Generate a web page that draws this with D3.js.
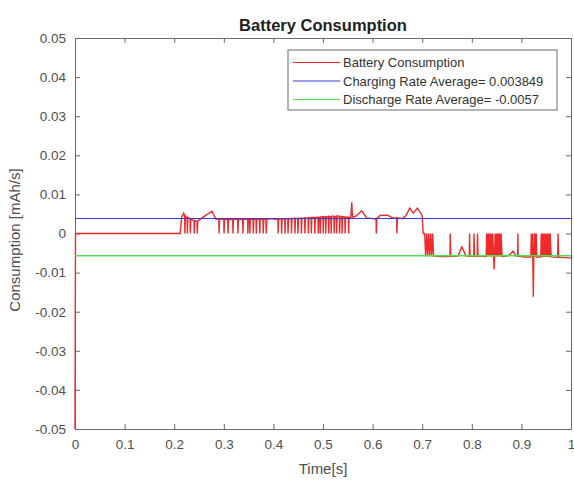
<!DOCTYPE html>
<html>
<head>
<meta charset="utf-8">
<script src="https://cdn.jsdelivr.net/npm/d3@7"></script>
<style>
  html, body { margin: 0; padding: 0; background: #fff; }
  svg { display: block; font-family: "Liberation Sans", Arial, Helvetica, sans-serif; }
</style>
</head>
<body>
<svg id="chart" width="574" height="480"></svg>
<script>
// ---------- data ----------
const titleText = "Battery Consumption";
const xLabelText = "Time[s]";
const yLabelText = "Consumption [mAh/s]";
const xTicks = [0, 0.1, 0.2, 0.3, 0.4, 0.5, 0.6, 0.7, 0.8, 0.9, 1];
const xTickLabels = ["0", "0.1", "0.2", "0.3", "0.4", "0.5", "0.6", "0.7", "0.8", "0.9", "1"];
const yTicks = [-0.05, -0.04, -0.03, -0.02, -0.01, 0, 0.01, 0.02, 0.03, 0.04, 0.05];
const yTickLabels = ["-0.05", "-0.04", "-0.03", "-0.02", "-0.01", "0", "0.01", "0.02", "0.03", "0.04", "0.05"];
const legendLabels = ["Battery Consumption", "Charging Rate Average= 0.003849", "Discharge Rate Average= -0.0057"];
const chargingAverage = 0.003849;
const dischargeAverage = -0.0057;

// battery consumption trace: [time, value]
const consumption = [
  [0.000,-0.0500],[0.001,0.0000],[0.212,0.0000],
  [0.215,0.0042],[0.219,0.0052],[0.221,0.0046],[0.2215,0.0000],[0.2225,0.0045],
  [0.226,0.0042],[0.2265,0.0000],[0.2275,0.0041],[0.232,0.0038],[0.2325,0.0000],[0.2335,0.0037],
  [0.240,0.0033],[0.2405,0.0000],[0.2415,0.0033],[0.246,0.0031],[0.2465,0.0000],[0.2475,0.0032],
  [0.262,0.0045],[0.276,0.0057],[0.284,0.0037],
  [0.290,0.0036],[0.2905,0.0000],[0.2915,0.0036],[0.300,0.0036],[0.3005,0.0000],[0.3015,0.0035],
  [0.308,0.0036],[0.3085,0.0000],[0.3095,0.0036],[0.318,0.0035],[0.3185,0.0000],[0.3195,0.0036],
  [0.328,0.0036],[0.3285,0.0000],[0.3295,0.0035],[0.338,0.0036],[0.3385,0.0000],[0.3395,0.0037],
  [0.348,0.0036],[0.3485,0.0000],[0.3495,0.0036],[0.352,0.0037],[0.3525,0.0000],[0.3535,0.0036],
  [0.359,0.0037],[0.3595,0.0000],[0.3605,0.0036],[0.365,0.0037],[0.3655,0.0000],[0.3665,0.0036],
  [0.372,0.0036],[0.3725,0.0000],[0.3735,0.0037],[0.379,0.0036],[0.3795,0.0000],[0.3805,0.0036],
  [0.385,0.0037],[0.3855,0.0000],[0.3865,0.0036],[0.396,0.0038],[0.404,0.0036],
  [0.409,0.0037],[0.4095,0.0000],[0.4105,0.0036],[0.416,0.0038],[0.4165,0.0000],[0.4175,0.0037],
  [0.423,0.0037],[0.4235,0.0000],[0.4245,0.0038],[0.429,0.0038],[0.4295,0.0000],[0.4305,0.0037],
  [0.436,0.0038],[0.4365,0.0000],[0.4375,0.0038],[0.443,0.0039],[0.4435,0.0000],[0.4445,0.0038],
  [0.449,0.0038],[0.4495,0.0000],[0.4505,0.0039],[0.456,0.0039],[0.4565,0.0000],[0.4575,0.0038],
  [0.463,0.0040],[0.4635,0.0000],[0.4645,0.0039],[0.470,0.0040],[0.4705,0.0000],[0.4715,0.0041],
  [0.476,0.0040],[0.4765,0.0000],[0.4775,0.0041],[0.483,0.0041],[0.4835,0.0000],[0.4845,0.0040],
  [0.490,0.0042],[0.4905,0.0000],[0.4915,0.0041],[0.494,0.0042],[0.4945,0.0000],[0.4955,0.0042],
  [0.500,0.0043],[0.5005,0.0000],[0.5015,0.0042],[0.505,0.0043],[0.5055,0.0000],[0.5065,0.0042],
  [0.511,0.0044],[0.5115,0.0000],[0.5125,0.0043],[0.516,0.0043],[0.5165,0.0000],[0.5175,0.0044],
  [0.522,0.0044],[0.5225,0.0000],[0.5235,0.0043],[0.527,0.0044],[0.5275,0.0000],[0.5285,0.0045],
  [0.533,0.0044],[0.5335,0.0000],[0.5345,0.0043],[0.538,0.0044],[0.5385,0.0000],[0.5395,0.0043],
  [0.544,0.0042],[0.5445,0.0000],[0.5455,0.0042],[0.551,0.0041],[0.5515,0.0000],[0.5525,0.0041],
  [0.556,0.0042],[0.558,0.0080],[0.5595,0.0042],[0.566,0.0044],[0.578,0.0058],[0.588,0.0040],
  [0.600,0.0038],[0.607,0.0036],[0.6075,0.0000],[0.6085,0.0038],[0.615,0.0046],[0.630,0.0047],
  [0.640,0.0040],[0.6485,0.0040],[0.649,0.0000],[0.650,0.0040],[0.660,0.0038],[0.667,0.0045],
  [0.675,0.0065],[0.682,0.0052],[0.690,0.0065],[0.697,0.0052],[0.700,0.0045],
  [0.702,0.0000],[0.705,0.0000],[0.707,-0.0058],[0.709,0.0000],[0.711,-0.0058],[0.713,0.0000],
  [0.715,-0.0058],[0.717,0.0000],[0.719,-0.0058],[0.721,0.0000],[0.723,-0.0058],
  [0.740,-0.0059],[0.756,-0.0059],[0.7565,0.0000],[0.7575,-0.0059],[0.772,-0.0058],
  [0.780,-0.0034],[0.788,-0.0057],[0.795,-0.0058],[0.7955,0.0000],[0.7965,-0.0058],
  [0.804,-0.0058],[0.8045,0.0000],[0.8055,-0.0058],[0.811,-0.0058],[0.8115,0.0000],[0.8125,-0.0058],
  [0.829,-0.0059],[0.830,0.0000],[0.832,-0.0059],[0.833,0.0000],[0.835,-0.0059],[0.836,0.0000],
  [0.838,-0.0059],[0.839,0.0000],[0.841,-0.0059],[0.842,0.0000],[0.844,-0.0059],[0.845,-0.0092],
  [0.846,-0.0059],[0.847,0.0000],[0.849,-0.0059],[0.850,0.0000],[0.852,-0.0059],[0.853,0.0000],
  [0.855,-0.0059],[0.856,0.0000],[0.858,-0.0059],[0.859,0.0000],[0.861,-0.0059],
  [0.870,-0.0058],[0.876,-0.0055],[0.883,-0.0045],[0.890,-0.0058],[0.8925,-0.0058],[0.893,0.0000],
  [0.8935,-0.0058],[0.905,-0.0060],[0.919,-0.0060],[0.920,0.0000],[0.921,-0.0060],[0.922,0.0000],
  [0.923,-0.0060],[0.924,-0.0162],[0.925,-0.0060],[0.926,0.0000],[0.927,-0.0060],[0.928,0.0000],
  [0.929,-0.0060],[0.930,0.0000],[0.931,-0.0060],[0.939,-0.0060],[0.940,0.0000],[0.942,-0.0060],
  [0.943,0.0000],[0.945,-0.0060],[0.946,0.0000],[0.948,-0.0060],[0.949,0.0000],[0.951,-0.0060],
  [0.952,0.0000],[0.954,-0.0060],[0.955,0.0000],[0.957,-0.0060],[0.958,0.0000],[0.960,-0.0060],
  [0.973,-0.0061],[0.974,0.0000],[0.975,-0.0061],[0.985,-0.0061],[1.000,-0.0063]
];

// ---------- layout ----------
const svg = d3.select("#chart");
const L = 75, R = 571, T = 38, B = 429;
const x = d3.scaleLinear().domain([0, 1]).range([L, R]);
const y = d3.scaleLinear().domain([-0.05, 0.05]).range([B, T]);

const axisColor = "#6a6a6a";
const textColor = "#4f4f4f";
const colRed = "#ee2a2a", colBlue = "#3a3ad0", colGreen = "#4ee04e";

svg.append("defs").append("clipPath").attr("id", "clip")
  .append("rect").attr("x", L - 1).attr("y", T).attr("width", R - L + 2).attr("height", B - T);

// plot background
svg.append("rect").attr("x", L).attr("y", T).attr("width", R - L).attr("height", B - T).attr("fill", "#fff");

// axes
function styleAxis(g) {
  g.select(".domain").attr("stroke", axisColor);
  g.selectAll(".tick line").attr("stroke", axisColor);
  g.selectAll(".tick text").attr("fill", textColor).attr("font-size", 13.5)
    .attr("font-family", "Liberation Sans, Arial, sans-serif");
}
const xAxis = svg.append("g").attr("transform", `translate(0,${B})`)
  .call(d3.axisBottom(x).tickValues(xTicks).tickSizeInner(-5).tickSizeOuter(0).tickPadding(10)
    .tickFormat((d, i) => xTickLabels[i]));
styleAxis(xAxis);
const yAxis = svg.append("g").attr("transform", `translate(${L},0)`)
  .call(d3.axisLeft(y).tickValues(yTicks).tickSizeInner(-5).tickSizeOuter(0).tickPadding(9)
    .tickFormat((d, i) => yTickLabels[i]));
styleAxis(yAxis);
const topAxis = svg.append("g").attr("transform", `translate(0,${T})`)
  .call(d3.axisTop(x).tickValues(xTicks).tickSizeInner(-5).tickSizeOuter(0).tickFormat(""));
styleAxis(topAxis);
const rightAxis = svg.append("g").attr("transform", `translate(${R},0)`)
  .call(d3.axisRight(y).tickValues(yTicks).tickSizeInner(-5).tickSizeOuter(0).tickFormat(""));
styleAxis(rightAxis);

// data lines
const plotG = svg.append("g").attr("clip-path", "url(#clip)");
const line = d3.line().x(d => x(d[0])).y(d => y(d[1]));
plotG.append("path").datum(consumption).attr("d", line)
  .attr("fill", "none").attr("stroke", colRed).attr("stroke-width", 1.4).attr("stroke-linejoin", "miter");
plotG.append("path").datum([[0, chargingAverage], [1, chargingAverage]]).attr("d", line)
  .attr("fill", "none").attr("stroke", colBlue).attr("stroke-width", 1.1);
plotG.append("path").datum([[0, dischargeAverage], [1, dischargeAverage]]).attr("d", line)
  .attr("fill", "none").attr("stroke", colGreen).attr("stroke-width", 1.5);

// title and labels
svg.append("text").attr("x", (L + R) / 2).attr("y", 31).attr("text-anchor", "middle")
  .attr("font-size", 16.5).attr("font-weight", "bold").attr("fill", "#222").text(titleText);
svg.append("text").attr("x", (L + R) / 2).attr("y", 474).attr("text-anchor", "middle")
  .attr("font-size", 15).attr("fill", textColor).text(xLabelText);
svg.append("text").attr("transform", `translate(20,240) rotate(-90)`).attr("text-anchor", "middle")
  .attr("font-size", 15).attr("fill", textColor).text(yLabelText);

// legend
const lg = svg.append("g");
lg.append("rect").attr("x", 288).attr("y", 50).attr("width", 269).attr("height", 60)
  .attr("fill", "#fff").attr("stroke", axisColor).attr("stroke-width", 1);
const legendColors = [colRed, colBlue, colGreen];
const rowY = [62.5, 81, 99.5];
legendLabels.forEach((lab, i) => {
  lg.append("line").attr("x1", 293).attr("x2", 340).attr("y1", rowY[i]).attr("y2", rowY[i])
    .attr("stroke", legendColors[i]).attr("stroke-width", 1.1);
  lg.append("text").attr("x", 343).attr("y", rowY[i]).attr("dy", "0.35em")
    .attr("font-size", 13).attr("fill", "#333").text(lab);
});
</script>
</body>
</html>
